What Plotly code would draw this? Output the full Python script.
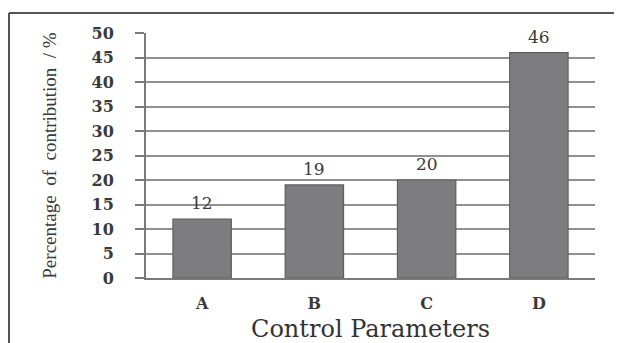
import plotly.graph_objects as go

categories = ["A", "B", "C", "D"]
values = [12, 19, 20, 46]
y_ticks = [0, 5, 10, 15, 20, 25, 30, 35, 40, 45, 50]

# the page adds an 8px body margin, so the figure is 8px smaller on each side
W, H = 614, 335
L, R, T, B = 138, 27, 25, 65
pw, ph = W - L - R, H - T - B

fig = go.Figure()
fig.add_trace(go.Bar(
    x=categories, y=values,
    marker=dict(color="#7d7d7f", line=dict(color="#5e5e5e", width=1.2)),
    width=0.52,
    hoverinfo="skip",
))

for c, v in zip(categories, values):
    fig.add_annotation(x=c, y=v, text=str(v), showarrow=False, yshift=16,
                       font=dict(family="DejaVu Serif", size=17, color="#3a3a3a"))

# outer frame (top and left lines)
xl = (1 - L) / pw
yt = (H - B - 5) / ph
fig.add_shape(type="line", xref="paper", yref="paper", x0=xl, x1=(W + 10 - L) / pw,
              y0=yt, y1=yt, line=dict(color="#555555", width=2))
fig.add_shape(type="line", xref="paper", yref="paper", x0=xl, x1=xl,
              y0=yt, y1=-(B + 10) / ph, line=dict(color="#555555", width=2))

fig.update_layout(
    width=W, height=H,
    margin=dict(l=L, r=R, t=T, b=B, autoexpand=False),
    paper_bgcolor="white", plot_bgcolor="white",
    showlegend=False,
    xaxis=dict(
        showgrid=False, showline=True, linecolor="#7a7a7a", linewidth=2,
        ticks="", tickfont=dict(family="DejaVu Serif", size=16, color="#3a3a3a", weight="bold"),
        ticklabelstandoff=10, automargin=False,
        title=dict(text="Control Parameters", standoff=11,
                   font=dict(family="DejaVu Serif", size=24, color="#333333")),
    ),
    yaxis=dict(
        range=[0, 50], tickvals=y_ticks,
        showgrid=True, gridcolor="#909090", gridwidth=1.6,
        showline=True, linecolor="#7a7a7a", linewidth=2,
        zeroline=False, automargin=False,
        ticks="outside", ticklen=9, tickcolor="#7a7a7a", tickwidth=1.6,
        ticklabelstandoff=18,
        tickfont=dict(family="DejaVu Serif", size=16, color="#3a3a3a", weight="bold"),
        title=dict(text="Percentage  of  contribution  / %", standoff=30,
                   font=dict(family="Liberation Serif", size=19, color="#3a3a3a")),
    ),
)

fig.write_html("out.html")
